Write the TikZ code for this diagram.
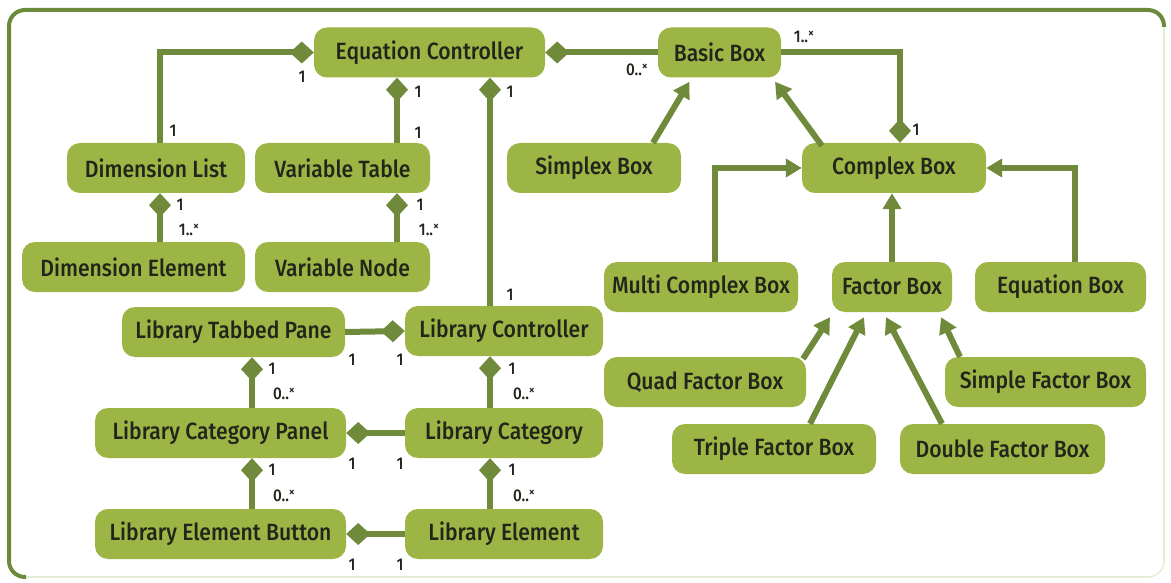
\documentclass[tikz,border=0pt]{standalone}
\usepackage{fontspec}
\setmainfont{Fira Sans}[UprightFont=* Medium, FakeStretch=0.9]
\usetikzlibrary{arrows.meta}
\definecolor{boxfill}{HTML}{9CB545}
\definecolor{linkcol}{HTML}{6E8A3A}
\definecolor{inkcol}{HTML}{23241A}
\definecolor{framedark}{HTML}{6C8A3C}
\definecolor{framelight}{HTML}{E6EDD6}
\newcommand\many[1]{#1..\raisebox{.6ex}{\fontsize{13}{13}\selectfont ×}}
\begin{document}
\begin{tikzpicture}[x=1pt,y=-1pt,
  cls/.style={fill=boxfill, rounded corners=13pt, minimum height=50pt,
    inner sep=0pt, text=inkcol, font=\fontsize{23.5}{23.5}\selectfont},
  link/.style={draw=linkcol, line width=6pt},
  comp/.style={link, {Diamond[length=24pt,width=22pt]}-},
  gen/.style={link, -{Triangle[length=16pt,width=18pt]}},
  mult/.style={text=inkcol, font=\fontsize{17}{17}\selectfont, inner sep=0pt}]
\useasboundingbox (0,0) rectangle (1171,583);
% frame
\draw[framelight, line width=1.6pt, rounded corners=16pt, fill=white] (9,10) rectangle (1164,577);
\draw[framedark, line width=4pt, rounded corners=16pt] (26,577) -- (9,577) -- (9,10) -- (1164,10) -- (1164,27);

% classes
\node[cls, minimum width=231pt] (ec)   at (429.5,52.5) {Equation Controller};
\node[cls, minimum width=123pt] (bb)   at (719.5,52.5) {Basic Box};
\node[cls, minimum width=178pt] (dl)   at (156,168)    {Dimension List};
\node[cls, minimum width=175pt] (vt)   at (342.5,168)  {Variable Table};
\node[cls, minimum width=174pt] (sx)   at (594,168)    {Simplex Box};
\node[cls, minimum width=184pt] (cx)   at (894,168)    {Complex Box};
\node[cls, minimum width=223pt] (de)   at (133.5,267)  {Dimension Element};
\node[cls, minimum width=175pt] (vn)   at (342.5,267)  {Variable Node};
\node[cls, minimum width=223pt] (ltp)  at (233.5,332)  {Library Tabbed Pane};
\node[cls, minimum width=198pt] (lc)   at (504,331)    {Library Controller};
\node[cls, minimum width=251pt] (lcp)  at (220.5,433)  {Library Category Panel};
\node[cls, minimum width=198pt] (lcat) at (504,433)    {Library Category};
\node[cls, minimum width=251pt] (leb)  at (220.5,534)  {Library Element Button};
\node[cls, minimum width=198pt] (le)   at (504,534)    {Library Element};
\node[cls, minimum width=194pt] (mcb)  at (701,287)    {Multi Complex Box};
\node[cls, minimum width=120pt] (fb)   at (892,287)    {Factor Box};
\node[cls, minimum width=171pt] (eb)   at (1060.5,287) {Equation Box};
\node[cls, minimum width=202pt] (qfb)  at (705,382)    {Quad Factor Box};
\node[cls, minimum width=201pt] (sfb)  at (1045.5,382) {Simple Factor Box};
\node[cls, minimum width=204pt] (tfb)  at (774,449)    {Triple Factor Box};
\node[cls, minimum width=205pt] (dfb)  at (1002.5,449) {Double Factor Box};

% attachment points of the vertical links
\coordinate (dlT)  at ([xshift=4pt]dl.north);
\coordinate (dlB)  at ([xshift=4pt]dl.south);
\coordinate (vtT)  at ([xshift=54.5pt]vt.north);
\coordinate (vtB)  at ([xshift=54.5pt]vt.south);
\coordinate (lcT)  at ([xshift=-14pt]lc.north);
\coordinate (lcB)  at ([xshift=-14pt]lc.south);
\coordinate (lcatB) at ([xshift=-14pt]lcat.south);
\coordinate (ltpB) at ([xshift=18.5pt]ltp.south);
\coordinate (lcpB) at ([xshift=31.5pt]lcp.south);
\coordinate (cxT)  at ([xshift=6pt]cx.north);

% compositions
\draw[comp] (ec.west) -| (dlT);
\draw[comp] (ec.south -| vtT) -- (vtT);
\draw[comp] (ec.south -| lcT) -- (lcT);
\draw[comp] (ec.east) -- (bb.west);
\draw[comp] (cxT) |- (bb.east);
\draw[comp] (dlB) -- (dlB |- de.north);
\draw[comp] (vtB) -- (vtB |- vn.north);
\draw[comp] (lc.west) -- (ltp.east);
\draw[comp] (ltpB) -- (ltpB |- lcp.north);
\draw[comp] (lcB) -- (lcB |- lcat.north);
\draw[comp] (lcp.east) -- (lcat.west);
\draw[comp] (lcpB) -- (lcpB |- leb.north);
\draw[comp] (lcatB) -- (lcatB |- le.north);
\draw[comp] (leb.east) -- (le.west);

% generalisations
\draw[gen] ([xshift=59pt]sx.north) -- ([xshift=-30pt,yshift=-4pt]bb.south);
\draw[gen] ([xshift=-72pt,yshift=-3pt]cx.north) -- ([xshift=55.5pt,yshift=-4pt]bb.south);
\draw[gen] (fb.north) -- (fb.north |- cx.south);
\draw[gen] ([xshift=14pt]mcb.north) |- (cx.west);
\draw[gen] ([xshift=14.5pt]eb.north) |- (cx.east);
\draw[gen] ([xshift=98pt,yshift=-2pt]qfb.north) -- ([xshift=-62pt,yshift=-5pt]fb.south);
\draw[gen] ([xshift=36pt]tfb.north) -- ([xshift=-28pt,yshift=-5pt]fb.south);
\draw[gen] ([xshift=-60.5pt]dfb.north) -- ([xshift=-6pt,yshift=-5pt]fb.south);
\draw[gen] ([xshift=-85.5pt]sfb.north) -- ([xshift=49pt,yshift=-5pt]fb.south);

% multiplicities
\node[mult] (m1)  at (302,77)  {1};
\node[mult] (m2)  at (173,131) {1};
\node[mult] (m3)  at (418,92)  {1};
\node[mult] (m4)  at (418,133) {1};
\node[mult] (m5)  at (510,92)  {1};
\node[mult] (m6)  at (510,295) {1};
\node[mult] (m7)  at (637,70)  {\many{0}};
\node[mult] (m8)  at (804,37)  {\many{1}};
\node[mult] (m9)  at (916,130) {1};
\node[mult] (m10) at (180,205) {1};
\node[mult] (m11) at (189,230) {\many{1}};
\node[mult] (m12) at (420,205) {1};
\node[mult] (m13) at (429,230) {\many{1}};
\node[mult] (m14) at (352,360) {1};
\node[mult] (m15) at (400,360) {1};
\node[mult] (m16) at (272,369) {1};
\node[mult] (m17) at (284,394) {\many{0}};
\node[mult] (m18) at (512,369) {1};
\node[mult] (m19) at (524,394) {\many{0}};
\node[mult] (m20) at (352,464) {1};
\node[mult] (m21) at (400,464) {1};
\node[mult] (m22) at (272,470) {1};
\node[mult] (m23) at (284,496) {\many{0}};
\node[mult] (m24) at (512,470) {1};
\node[mult] (m25) at (524,496) {\many{0}};
\node[mult] (m26) at (352,565) {1};
\node[mult] (m27) at (400,565) {1};
\end{tikzpicture}
\end{document}
